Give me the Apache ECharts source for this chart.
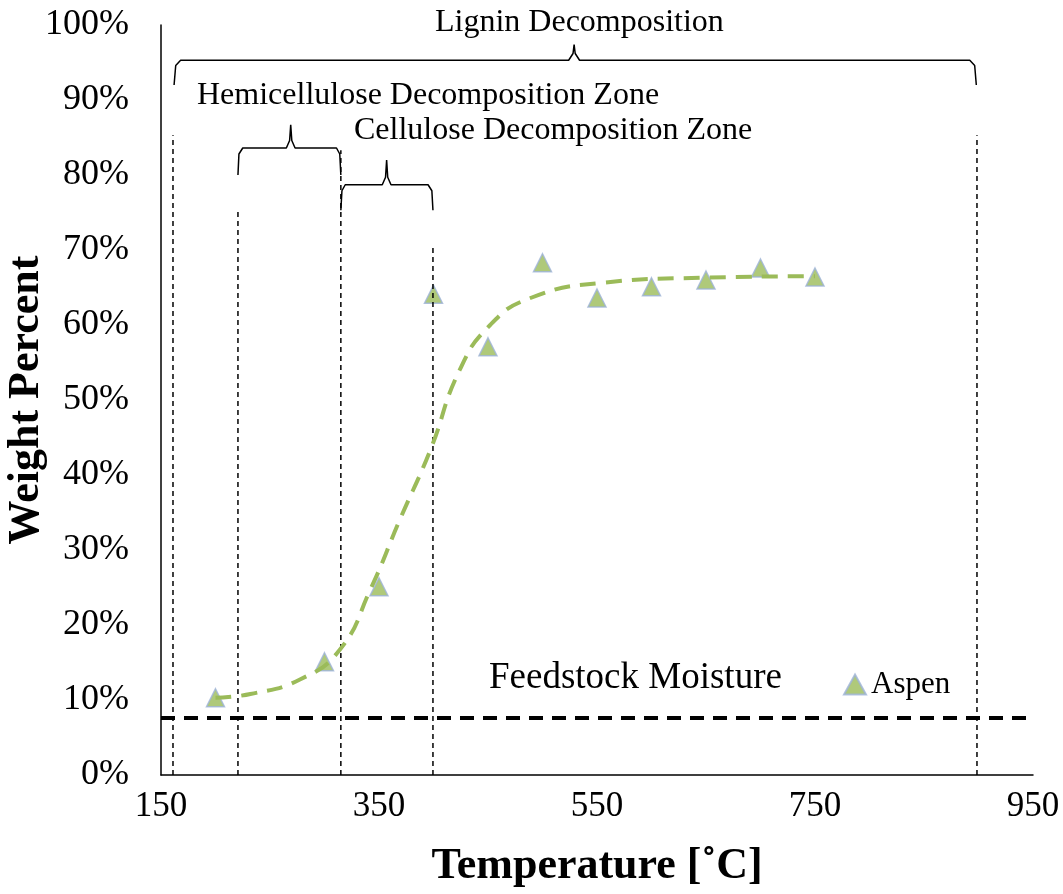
<!DOCTYPE html>
<html><head><meta charset="utf-8">
<script src="https://cdn.jsdelivr.net/npm/echarts@6/dist/echarts.min.js"></script>
<style>html,body{margin:0;padding:0;background:#fff}#c{width:1063px;height:894px}</style>
</head><body><div id="c"></div>
<script>
const aspenT = [200,300,350,400,450,500,550,600,650,700,750];
const aspenW = [10.3,15.1,25.1,64.1,57.1,68.3,63.6,65.1,66.0,67.6,66.4];
const trendT = [200,232,277,314,342,369,397,424,452,489,553,645,750];
const trendW = [10.3,10.8,12.7,16.7,24.7,34.0,43.3,54.0,60.0,63.6,65.6,66.3,66.5];
const zoneLines = [[161,85.3],[220.6,75.3],[315,83.3],[399.5,70.3],[898.6,85.3]];
const moisture = 7.6;
const ligninBrace = [[162,92],[163.5,94.6],[168,95.3],[524,95.3],[528,96.2],[529,97.4],[530,96.2],[534,95.3],[892,95.3],[896.5,94.6],[898,92]];
const hemiBrace = [[220.6,80],[221.5,82.8],[225,83.6],[265,83.6],[268,84.6],[269,86.7],[270,84.6],[273,83.6],[311,83.6],[314,82.8],[315,80]];
const celluBrace = [[315,75.3],[316,77.9],[319,78.7],[353,78.7],[356,79.7],[357,82],[358,79.7],[361,78.7],[395,78.7],[398.5,77.9],[399.5,75.3]];

const F = 'Liberation Serif';
const series = [];
zoneLines.forEach(z => series.push({type:'line',data:[[z[0],0],[z[0],z[1]]],symbol:'none',silent:true,
  lineStyle:{color:'#000',width:1.5,type:[5,4]}}));
series.push({type:'line',data:[[150,moisture],[950,moisture]],symbol:'none',lineStyle:{color:'#000',width:4,type:[14,9]}});
[ligninBrace,hemiBrace,celluBrace].forEach(b => series.push({type:'line',data:b,symbol:'none',lineStyle:{color:'#000',width:1.5}}));
series.push({type:'line',data:trendT.map((t,i)=>[t,trendW[i]]),smooth:true,symbol:'none',lineStyle:{color:'#9BBB59',width:4,type:[16,10]}});
series.push({name:'Aspen',type:'scatter',data:aspenT.map((t,i)=>[t,aspenW[i]]),symbol:'triangle',symbolSize:18,
  itemStyle:{color:'#9BBB59',borderColor:'#9DB3D8',borderWidth:1.5}});

const chart = echarts.init(document.getElementById('c'));
chart.setOption({
  animation:false,
  grid:{left:161,right:30,top:25,bottom:119,containLabel:false,outerBoundsMode:'none'},
  xAxis:{type:'value',min:150,max:950,interval:200,
    axisLine:{lineStyle:{color:'#000',width:1.5}},axisTick:{show:false},splitLine:{show:false},
    axisLabel:{color:'#000',fontFamily:F,fontSize:35,margin:14},
    name:'Temperature [˚C]',nameLocation:'middle',nameGap:70,nameMoveOverlap:false,
    nameTextStyle:{color:'#000',fontFamily:F,fontSize:44,fontWeight:'bold'}},
  yAxis:{type:'value',min:0,max:100,interval:10,
    axisLine:{show:true,lineStyle:{color:'#000',width:1.5}},axisTick:{show:false},splitLine:{show:false},
    axisLabel:{color:'#000',fontFamily:F,fontSize:36,formatter:'{value}%',margin:32},
    name:'Weight Percent',nameLocation:'middle',nameGap:112,nameMoveOverlap:false,
    nameTextStyle:{color:'#000',fontFamily:F,fontSize:44,fontWeight:'bold'}},
  legend:{data:['Aspen'],left:838,top:664,itemWidth:22,itemHeight:20,icon:'triangle',
    textStyle:{color:'#000',fontFamily:F,fontSize:31}},
  graphic:[
    {type:'text',left:435,top:7,style:{text:'Lignin Decomposition',font:'32px "Liberation Serif"',fill:'#000'}},
    {type:'text',left:197,top:80,style:{text:'Hemicellulose Decomposition Zone',font:'32px "Liberation Serif"',fill:'#000'}},
    {type:'text',left:354,top:115,style:{text:'Cellulose Decomposition Zone',font:'32px "Liberation Serif"',fill:'#000'}},
    {type:'text',left:489,top:660,style:{text:'Feedstock Moisture',font:'37px "Liberation Serif"',fill:'#000'}}
  ],
  series
});
</script></body></html>
